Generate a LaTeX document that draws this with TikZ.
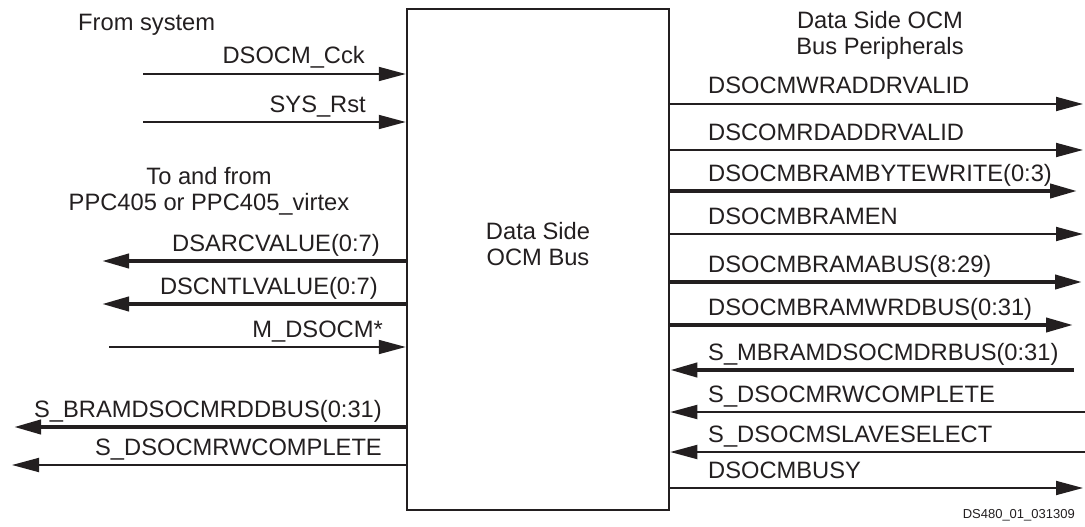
\documentclass[tikz,border=0pt]{standalone}
\usepackage{fontspec}
\setmainfont{Liberation Sans}
\usetikzlibrary{arrows.meta}
\definecolor{ink}{RGB}{35,31,32}

\begin{document}
\begin{tikzpicture}[x=1pt,y=-1pt,color=ink,
  font=\fontsize{23.7pt}{26pt}\selectfont,
  sig/.style={line width=1.8pt},
  wide/.style={line width=4pt},
  head/.style={-{Triangle[length=27pt,width=14pt]}},
  lname/.style={anchor=base east,inner sep=0pt},
  rname/.style={anchor=base west,inner sep=0pt}]
\useasboundingbox (0,0) rectangle (1085,527);
\node[draw,line width=2.5pt,minimum width=262pt,minimum height=501pt,inner sep=0pt] (ocm) at (538,259.5) {};
\node[align=center] (ocmname) at (538,244) {Data Side\\OCM Bus};
% left side
\node[anchor=base west,inner sep=0pt] (sys) at (78,31) {From system};
\node[align=center] (ppc) at (209,191.5) {To and from\\PPC405 or PPC405\_virtex};
\coordinate (cck) at (143,74);
\coordinate (rst) at (143,122);
\coordinate (arc) at (102,261);
\coordinate (cntl) at (102,304);
\coordinate (mdso) at (109,347);
\coordinate (rdd) at (14,427);
\coordinate (lrwc) at (12,465);
\draw[sig,head] (cck) -- (cck -| ocm.west);
\draw[sig,head] (rst) -- (rst -| ocm.west);
\draw[wide,head] (arc -| ocm.west) -- (arc);
\draw[wide,head] (cntl -| ocm.west) -- (cntl);
\draw[sig,head] (mdso) -- (mdso -| ocm.west);
\draw[wide,head] (rdd -| ocm.west) -- (rdd);
\draw[sig,head] (lrwc -| ocm.west) -- (lrwc);
\node[lname] (tcck) at (365,64) {DSOCM\_Cck};
\node[lname] (trst) at (366,112) {SYS\_Rst};
\node[lname] (tarc) at (380,251) {DSARCVALUE(0:7)};
\node[lname] (tcntl) at (378,294) {DSCNTLVALUE(0:7)};
\node[lname] (tmdso) at (383,337) {M\_DSOCM*};
\node[lname] (trdd) at (382,417) {S\_BRAMDSOCMRDDBUS(0:31)};
\node[lname] (tlrwc) at (382,455) {S\_DSOCMRWCOMPLETE};
% right side
\node[align=center] (peri) at (880,35) {Data Side OCM\\Bus Peripherals};
\coordinate (wra) at (1083,104);
\coordinate (rda) at (1083,150);
\coordinate (bwr) at (1077,191);
\coordinate (ben) at (1083,234);
\coordinate (abus) at (1082,282);
\coordinate (wrd) at (1073,325);
\coordinate (mdr) at (1074,370);
\coordinate (rrwc) at (1085,412);
\coordinate (slv) at (1085,452);
\coordinate (busy) at (1083,488);
\draw[sig,head] (wra -| ocm.east) -- (wra);
\draw[sig,head] (rda -| ocm.east) -- (rda);
\draw[wide,head] (bwr -| ocm.east) -- (bwr);
\draw[sig,head] (ben -| ocm.east) -- (ben);
\draw[wide,head] (abus -| ocm.east) -- (abus);
\draw[wide,head] (wrd -| ocm.east) -- (wrd);
\draw[wide,head] (mdr) -- (mdr -| ocm.east);
\draw[sig,head] (rrwc) -- (rrwc -| ocm.east);
\draw[sig,head] (slv) -- (slv -| ocm.east);
\draw[sig,head] (busy -| ocm.east) -- (busy);
\node[rname] (twra) at (708,94) {DSOCMWRADDRVALID};
\node[rname] (trda) at (708,140) {DSCOMRDADDRVALID};
\node[rname] (tbwr) at (708,181) {DSOCMBRAMBYTEWRITE(0:3)};
\node[rname] (tben) at (708,224) {DSOCMBRAMEN};
\node[rname] (tabus) at (708,272) {DSOCMBRAMABUS(8:29)};
\node[rname] (twrd) at (708,315) {DSOCMBRAMWRDBUS(0:31)};
\node[rname] (tmdr) at (708,360) {S\_MBRAMDSOCMDRBUS(0:31)};
\node[rname] (trrwc) at (708,402) {S\_DSOCMRWCOMPLETE};
\node[rname] (tslv) at (708,442) {S\_DSOCMSLAVESELECT};
\node[rname] (tbusy) at (708,478) {DSOCMBUSY};
\node[anchor=base east,inner sep=0pt,font=\fontsize{13pt}{15pt}\selectfont] (fig) at (1075,518) {DS480\_01\_031309};
\end{tikzpicture}
\end{document}
